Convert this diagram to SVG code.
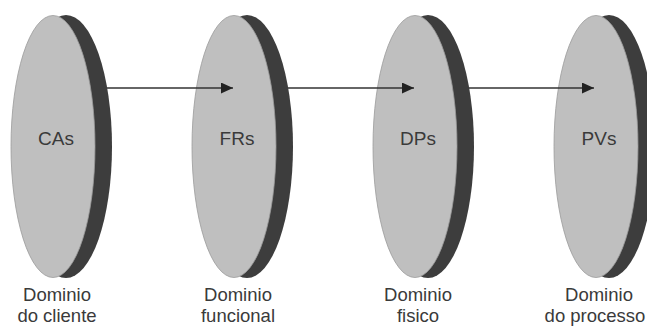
<svg xmlns="http://www.w3.org/2000/svg" width="647" height="329" viewBox="0 0 647 329">
<defs>
<style>
.rim{fill:#3d3d3d;}
.face{fill:#bfbfbf;stroke:#9a9a9a;stroke-width:0.8;}
.lbl{font-family:"Liberation Sans",Arial,sans-serif;font-size:19px;fill:#3a3a3a;text-anchor:middle;}
.cap{font-family:"Liberation Sans",Arial,sans-serif;font-size:18.5px;fill:#3a3a3a;text-anchor:middle;}
.conn{stroke:#333;stroke-width:1.3;fill:none;}
</style>
<marker id="ah" viewBox="0 0 12 11" refX="12" refY="5.5" markerWidth="12" markerHeight="11" markerUnits="userSpaceOnUse" orient="auto">
<path d="M0,0 L12,5.5 L0,11 Z" fill="#222"/>
</marker>
</defs>
<rect width="647" height="329" fill="#fff"/>
<g id="node-cas">
<ellipse class="rim" cx="66" cy="146.5" rx="46" ry="131.5"/>
<ellipse class="face" cx="53" cy="146.5" rx="42" ry="131"/>
<text class="lbl" x="56" y="145">CAs</text>
<text class="cap" x="57" y="301">Dominio</text>
<text class="cap" x="57" y="322">do cliente</text>
</g>
<g id="node-frs">
<ellipse class="rim" cx="247" cy="146.5" rx="46" ry="131.5"/>
<ellipse class="face" cx="234" cy="146.5" rx="42" ry="131"/>
<text class="lbl" x="237" y="145">FRs</text>
<text class="cap" x="238" y="301">Dominio</text>
<text class="cap" x="238" y="322">funcional</text>
</g>
<g id="node-dps">
<ellipse class="rim" cx="428" cy="146.5" rx="46" ry="131.5"/>
<ellipse class="face" cx="415" cy="146.5" rx="42" ry="131"/>
<text class="lbl" x="418" y="145">DPs</text>
<text class="cap" x="418" y="301">Dominio</text>
<text class="cap" x="418" y="322">fisico</text>
</g>
<g id="node-pvs">
<ellipse class="rim" cx="609" cy="146.5" rx="46" ry="131.5"/>
<ellipse class="face" cx="596" cy="146.5" rx="42" ry="131"/>
<text class="lbl" x="599" y="145">PVs</text>
<text class="cap" x="599" y="301">Dominio</text>
<text class="cap" x="595" y="322">do processo</text>
</g>
<g id="connectors">
<line class="conn" x1="107" y1="88" x2="233" y2="88" marker-end="url(#ah)"/>
<line class="conn" x1="288" y1="88" x2="414" y2="88" marker-end="url(#ah)"/>
<line class="conn" x1="469" y1="88" x2="594" y2="88" marker-end="url(#ah)"/>
</g>
</svg>
